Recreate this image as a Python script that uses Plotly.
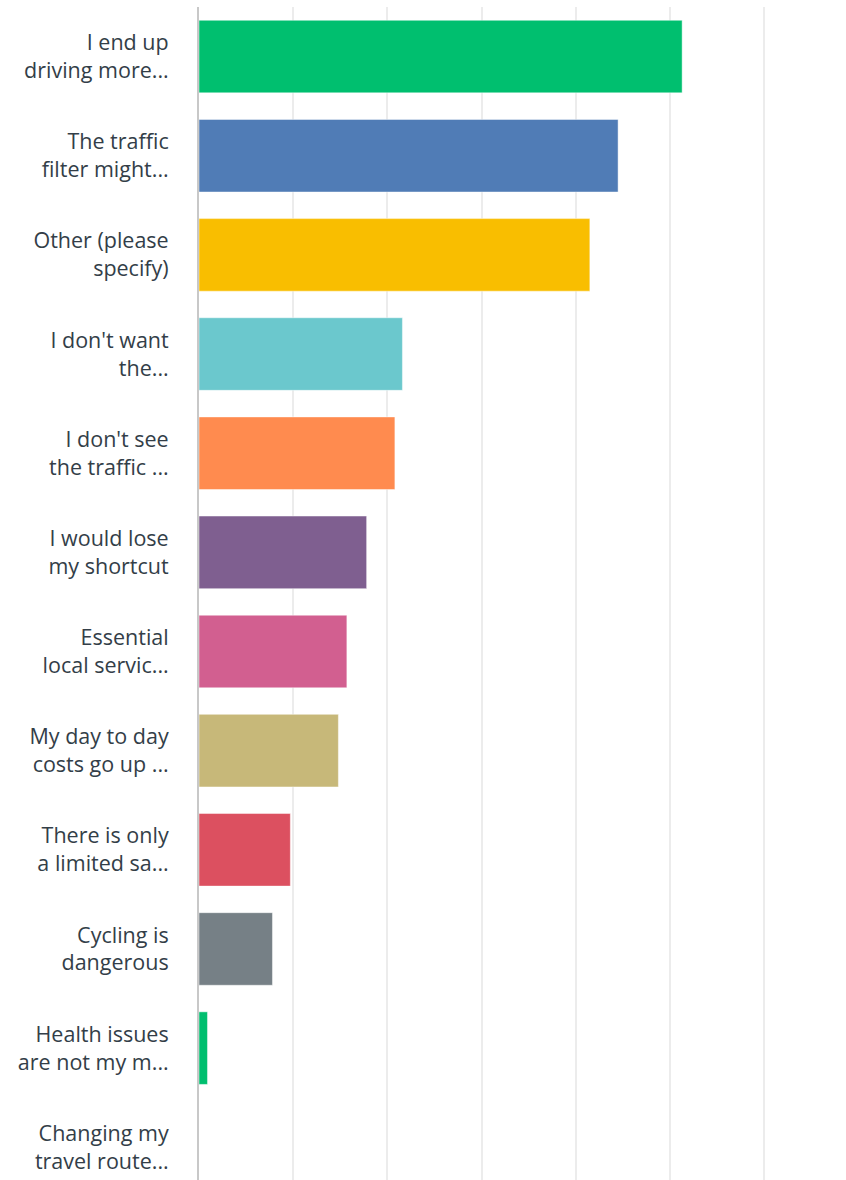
import plotly.graph_objects as go

# Answer choices (shortened as displayed), top to bottom
labels = [
    "I end up<br>driving more...",
    "The traffic<br>filter might...",
    "Other (please<br>specify)",
    "I don't want<br>the...",
    "I don't see<br>the traffic ...",
    "I would lose<br>my shortcut",
    "Essential<br>local servic...",
    "My day to day<br>costs go up ...",
    "There is only<br>a limited sa...",
    "Cycling is<br>dangerous",
    "Health issues<br>are not my m...",
    "Changing my<br>travel route...",
]

# Share of respondents (%)
values = [51.3, 44.5, 41.5, 21.6, 20.8, 17.8, 15.7, 14.8, 9.7, 7.8, 0.9, 0.0]

colors = [
    "#00bf6f", "#507cb6", "#f9be00", "#6bc8cd", "#ff8b4f", "#7f5f90",
    "#d25f90", "#c7b879", "#dc5060", "#768086", "#00bf6f", "#00bf6f",
]

positions = list(range(len(labels)))

fig = go.Figure(
    go.Bar(
        x=values,
        y=positions,
        orientation="h",
        marker=dict(color=colors, line=dict(color="rgba(255,255,255,0.45)", width=1)),
        hoverinfo="x+y",
    )
)

fig.update_layout(
    width=846,
    height=1180,
    margin=dict(l=199, r=0, t=7, b=0),
    paper_bgcolor="white",
    plot_bgcolor="white",
    bargap=0.268,
    showlegend=False,
    font=dict(family="Open Sans", size=21.5, color="#333e48"),
)

fig.update_xaxes(
    range=[0, 68.7],
    dtick=10,
    showgrid=True,
    gridcolor="#ececec",
    gridwidth=2,
    zeroline=False,
    showticklabels=False,
    showline=False,
    fixedrange=True,
)

fig.update_yaxes(
    tickmode="array",
    tickvals=positions,
    ticktext=labels,
    range=[11.33, -0.5],
    showgrid=False,
    zeroline=False,
    showline=True,
    linecolor="#c8c8c8",
    linewidth=2,
    ticks="",
    ticklabelstandoff=24,
    tickfont=dict(family="Open Sans", size=21.5, color="#333e48"),
    fixedrange=True,
)

fig.write_html("out.html")
